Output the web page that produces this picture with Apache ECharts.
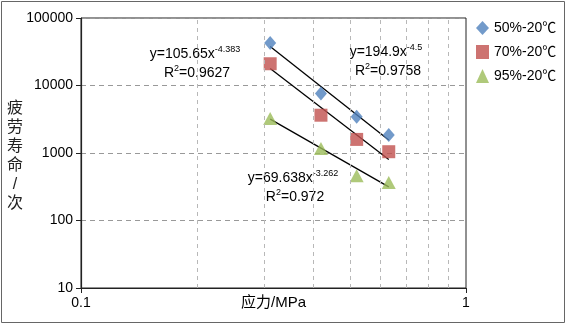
<!DOCTYPE html>
<html>
<head>
<meta charset="utf-8">
<script src="https://cdn.jsdelivr.net/npm/echarts@6/dist/echarts.min.js"></script>
<style>
  html, body { margin: 0; padding: 0; background: #fff; }
  #chart { width: 567px; height: 325px; }
</style>
</head>
<body>
<div id="chart"></div>
<script>
// 应力 (MPa)
const stress = [0.31, 0.42, 0.52, 0.63];
// 疲劳寿命
const life50 = [42500, 7600, 3430, 1840];
const life70 = [21000, 3630, 1590, 1045];
const life95 = [3240, 1170, 460, 365];
const seriesNames = ['50%-20℃', '70%-20℃', '95%-20℃'];
// 幂函数拟合 y = a * x^b
const fitA = [194.9, 105.65, 69.638];
const fitB = [-4.5, -4.383, -3.262];
const fitR2 = ['0.9758', '0.9627', '0.972'];
const minorX = [0.2, 0.3, 0.4, 0.5, 0.6, 0.7, 0.8, 0.9];
const colors = ['#4F81BD', '#C0504D', '#9BBB59'];
const font = '"Liberation Sans", "Noto Sans CJK SC", sans-serif';

let chartDom = document.getElementById('chart');
let chart = echarts.init(chartDom);

function trend(i) {
    const x0 = stress[0], x1 = stress[stress.length - 1];
    return [[x0, fitA[i] * Math.pow(x0, fitB[i])], [x1, fitA[i] * Math.pow(x1, fitB[i])]];
}

function eqText(i, x, y) {
    const rich = {
        n: { fontSize: 14, fontFamily: font, fill: '#000' },
        s: { fontSize: 9, fontFamily: font, fill: '#000', padding: [0, 0, 9, 0] }
    };
    return [
        {
            type: 'text', x: x, y: y,
            style: { text: '{n|y=' + fitA[i] + 'x}{s|' + fitB[i] + '}', align: 'center', verticalAlign: 'middle', rich: rich }
        },
        {
            type: 'text', x: x + 2, y: y + 19,
            style: { text: '{n|R}{s|2}{n|=' + fitR2[i] + '}', align: 'center', verticalAlign: 'middle', rich: rich }
        }
    ];
}

let option = {
    animation: false,
    textStyle: { fontFamily: font },
    grid: {
        left: 81, right: 101, top: 18, bottom: 37, show: true, borderColor: '#222', borderWidth: 1,
        outerBoundsMode: 'none', containLabel: false
    },
    legend: {
        orient: 'vertical',
        left: 471, top: 16,
        itemGap: 10,
        itemWidth: 13, itemHeight: 14,
        textStyle: { fontSize: 14, color: '#000', fontFamily: font },
        data: [
            { name: seriesNames[0], icon: 'diamond' },
            { name: seriesNames[1], icon: 'rect' },
            { name: seriesNames[2], icon: 'triangle' }
        ]
    },
    xAxis: {
        type: 'log', logBase: 10, min: 0.1, max: 1,
        name: '应力/MPa', nameLocation: 'middle', nameGap: 7, nameMoveOverlap: false,
        nameTextStyle: { fontSize: 15, color: '#000' },
        axisLine: { lineStyle: { color: '#222', width: 1.2 } },
        axisTick: { show: true, length: 5, lineStyle: { color: '#222' } },
        axisLabel: { fontSize: 14, color: '#000', margin: 8 },
        splitLine: { show: false }
    },
    yAxis: {
        type: 'log', logBase: 10, min: 10, max: 100000,
        axisLine: { lineStyle: { color: '#222', width: 1.2 } },
        axisTick: { show: true, length: 5, lineStyle: { color: '#222' } },
        axisLabel: { fontSize: 14, color: '#000', margin: 8, formatter: v => String(v) },
        splitLine: { show: true, lineStyle: { color: '#999', type: [5, 4], width: 1 } }
    },
    graphic: [
        { type: 'rect', shape: { x: 1.5, y: 1.5, width: 563, height: 321 }, style: { fill: 'none', stroke: '#666', lineWidth: 1 }, silent: true },
        {
            type: 'text', x: 15, y: 156,
            style: {
                text: '疲\n劳\n寿\n命\n/\n次', align: 'center', verticalAlign: 'middle',
                fontSize: 16, lineHeight: 19, fill: '#222', fontFamily: font
            }
        }
    ].concat(eqText(0, 386, 52), eqText(1, 195, 54), eqText(2, 293, 178)),
    series: [
        {
            type: 'line', data: [], silent: true,
            markLine: {
                silent: true, symbol: 'none', label: { show: false },
                lineStyle: { color: '#b8b8b8', type: [4, 4], width: 1 },
                data: minorX.map(v => ({ xAxis: v }))
            }
        },
        { type: 'line', data: trend(0), showSymbol: false, silent: true, lineStyle: { color: '#000', width: 1.3 }, z: 3 },
        { type: 'line', data: trend(1), showSymbol: false, silent: true, lineStyle: { color: '#000', width: 1.3 }, z: 3 },
        { type: 'line', data: trend(2), showSymbol: false, silent: true, lineStyle: { color: '#000', width: 1.3 }, z: 3 },
        {
            name: seriesNames[0], type: 'scatter', symbol: 'diamond', symbolSize: [12, 14],
            itemStyle: { color: colors[0] }, z: 4,
            data: stress.map((x, i) => [x, life50[i]])
        },
        {
            name: seriesNames[1], type: 'scatter', symbol: 'rect', symbolSize: 13,
            itemStyle: { color: colors[1] }, z: 4,
            data: stress.map((x, i) => [x, life70[i]])
        },
        {
            name: seriesNames[2], type: 'scatter', symbol: 'triangle', symbolSize: [14, 13],
            itemStyle: { color: colors[2] }, z: 4,
            data: stress.map((x, i) => [x, life95[i]])
        }
    ]
};

chart.setOption(option);
window.addEventListener('resize', () => {
    chart.resize();
});
</script>
</body>
</html>
